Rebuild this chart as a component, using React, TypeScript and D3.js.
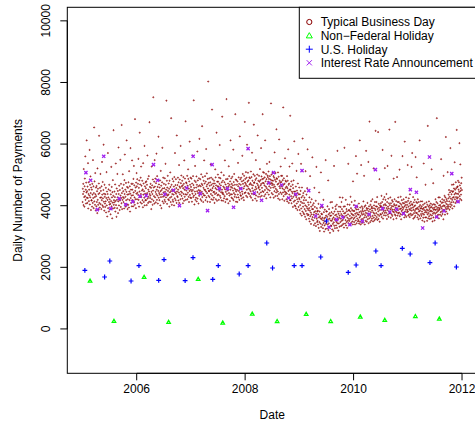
import React, { useEffect } from 'react';
import * as d3 from 'd3';

const xTicks = [2006, 2008, 2010, 2012];
const yTicks = [0, 2000, 4000, 6000, 8000, 10000];

// typical business days: payments in tens, one string per month (Jan..Dec)
const typical2005 = [
  '412 455 438 471 402 519 446 428 397 463 488 431 560 419 452 407 475 443 612 426',
  '447 409 462 425 538 391 438 476 415 452 433 581 404 468 427 495 441 386 459 417',
  '418 452 397 471 436 409 548 425 463 392 441 654 414 479 428 403 506 437 385 459',
  '431 398 464 412 447 376 521 419 455 403 438 388 472 627 409 441 394 458 426 503',
  '405 448 427 389 463 418 542 436 401 477 424 396 451 598 413 439 384 468 429 407',
  '396 437 414 458 378 425 509 401 446 365 419 438 571 392 427 453 381 412 468 404',
  '421 388 449 406 372 437 415 526 398 461 427 359 444 410 483 391 432 645 403 418',
  '411 446 393 428 469 381 415 537 402 438 364 456 419 392 503 427 448 376 414 589',
  '438 401 465 422 386 451 417 549 433 396 471 425 408 662 441 389 457 419 502 428',
  '447 412 468 425 391 483 438 566 406 452 429 397 474 418 445 612 403 461 436 389',
  '421 458 403 476 437 394 512 446 418 463 381 439 587 425 452 409 471 433 398 547',
  '452 418 471 434 398 487 443 529 412 466 427 403 681 448 421 459 392 475 439 506',
];
const typical2006 = [
  '463 421 486 442 408 471 435 552 419 458 397 482 446 637 428 469 411 491 438 527',
  '428 465 407 449 481 418 453 395 538 436 472 412 447 426 594 401 463 439 418 476',
  '457 418 479 436 402 468 441 563 423 487 409 452 429 496 446 413 671 438 461 425',
  '433 471 412 458 389 445 527 421 466 438 403 485 449 752 416 459 431 478 407 548',
  '462 427 488 445 411 473 438 569 452 419 496 433 461 407 484 448 624 426 469 441',
  '418 459 436 482 401 447 513 428 465 392 451 437 476 588 414 456 429 491 443 408',
  '471 432 457 419 489 445 413 536 468 427 452 741 438 481 406 459 433 497 448 421',
  '436 472 418 455 397 481 443 426 508 461 412 447 684 429 468 403 452 438 487 419',
  '448 413 479 436 462 401 493 452 424 571 443 467 418 486 439 457 409 628 446 431',
  '467 428 491 452 417 476 443 532 409 462 485 437 458 421 594 473 446 498 432 463',
  '442 481 423 466 408 457 493 438 471 416 547 452 429 488 461 437 674 419 476 449',
  '473 436 458 497 421 465 442 518 487 429 456 412 479 448 608 435 468 426 491 452',
];
const typical2007 = [
  '461 425 488 447 413 472 439 563 451 496 428 467 742 433 458 404 481 446 529 419',
  '438 477 426 459 495 414 468 447 576 423 482 441 463 407 451 489 432 617 466 444',
  '449 486 421 463 437 502 416 471 445 658 428 467 493 439 412 458 481 434 547 452',
  '472 433 496 451 418 478 446 584 427 463 505 441 469 413 487 456 803 432 474 448',
  '447 489 428 465 412 476 452 534 438 491 421 468 449 712 433 457 486 419 472 444',
  '463 426 481 445 409 472 438 518 457 492 421 466 441 637 453 416 478 434 463 501',
  '478 436 462 419 491 448 471 597 432 457 489 426 466 444 508 417 476 452 689 439',
  '443 481 416 462 437 499 424 458 476 431 547 453 412 469 445 486 421 746 461 438',
  '456 421 487 449 472 408 463 528 441 496 433 468 415 479 452 612 437 461 489 426',
  '471 437 458 494 423 466 449 582 418 477 441 503 456 429 468 436 697 452 485 413',
  '446 483 427 468 451 412 479 436 539 463 427 492 448 471 419 457 625 442 486 434',
  '468 432 491 457 423 479 446 562 438 503 471 427 482 456 418 497 463 441 672 475',
];
const typical2008 = [
  '487 443 471 509 432 466 491 452 598 428 478 463 507 441 482 456 734 438 492 469',
  '452 489 431 473 447 511 426 468 493 439 572 457 481 418 466 448 502 437 663 474',
  '476 438 497 452 423 484 461 548 433 489 455 416 472 501 444 628 467 429 481 458',
  '461 497 438 478 452 519 429 483 466 443 587 471 495 432 458 486 447 697 474 509',
  '488 445 473 507 431 466 492 451 612 437 479 462 503 424 486 457 536 443 471 498',
  '493 452 478 511 436 487 463 542 449 496 471 427 485 458 732 474 501 441 482 467',
  '472 508 437 481 459 496 426 468 491 447 573 462 484 431 506 455 478 443 648 489',
  '451 487 432 469 446 508 423 472 494 438 615 463 481 419 457 476 443 527 468 497',
  '477 438 462 497 421 456 483 443 719 468 431 489 452 416 471 446 554 437 481 458',
  '443 478 421 462 439 496 414 457 481 426 583 448 468 409 472 436 527 452 418 692',
  '452 418 463 431 479 408 446 424 537 441 468 396 457 429 482 413 446 609 438 401',
  '417 446 398 434 462 391 428 513 407 449 421 386 441 472 413 568 396 437 425 459',
];
const typical2009 = [
  '421 386 437 402 374 448 413 536 391 427 368 459 409 381 618 432 397 441 376 418',
  '408 372 426 389 447 364 401 512 383 418 356 436 397 374 457 391 583 369 411 386',
  '371 403 358 392 427 349 384 496 366 411 378 341 397 372 421 356 389 557 363 402',
  '389 352 371 408 337 379 458 361 396 343 382 367 416 334 374 526 358 392 347 381',
  '351 384 339 372 406 328 362 443 347 381 318 366 393 342 359 508 331 374 356 397',
  '372 338 361 394 327 352 419 344 379 316 358 336 387 349 362 324 548 341 368 382',
  '347 381 326 364 398 339 356 482 321 372 343 389 331 358 376 312 367 411 352 336',
  '368 334 379 351 412 323 357 393 341 374 318 362 346 529 335 381 356 327 369 398',
  '352 389 336 371 347 403 328 364 578 343 381 356 319 374 342 397 361 332 368 427',
  '381 347 396 358 334 373 412 351 389 337 368 426 354 382 341 361 397 329 375 588',
  '364 398 342 377 353 419 336 368 389 347 382 328 361 404 351 372 536 343 385 357',
  '386 351 403 367 338 381 429 358 392 344 374 412 362 386 349 371 339 479 383 357',
];
const typical2010 = [
  '369 402 347 383 361 416 339 374 393 352 561 366 388 343 377 504 358 396 372 349',
  '388 353 371 407 342 379 362 612 348 394 367 339 382 532 356 376 398 344 371 386',
  '392 357 381 414 346 373 497 362 397 339 384 369 401 351 377 578 363 392 348 386',
  '374 409 356 391 367 542 343 382 398 359 673 371 388 347 403 364 379 415 352 392',
  '397 358 384 421 367 392 349 378 521 361 401 374 353 391 412 368 386 643 357 398',
  '376 412 363 397 428 354 389 371 639 382 357 406 393 367 486 348 386 401 373 396',
  '408 371 398 432 363 387 412 376 581 394 358 421 383 402 369 393 428 377 522 405',
  '384 419 368 401 377 438 392 357 412 386 529 371 397 423 364 391 408 381 647 376',
  '402 376 427 388 361 408 393 562 372 399 418 367 387 413 381 398 356 488 379 405',
  '387 421 372 401 672 368 394 382 415 359 402 378 493 391 368 412 386 427 375 398',
  '412 378 398 517 366 389 407 373 429 391 356 403 383 418 371 396 561 387 409 377',
  '393 421 376 407 362 398 608 381 412 369 402 387 427 364 394 412 379 403 386 532',
];
const typical2011 = [
  '381 416 368 397 424 372 389 408 363 437 386 401 374 413 392 369 526 384 405 571',
  '403 371 394 428 358 387 411 376 398 362 419 383 401 367 558 389 377 412 391 492',
  '376 409 362 393 421 371 388 356 412 381 397 367 612 384 402 359 391 414 373 392',
  '367 398 381 414 352 389 374 403 361 392 537 371 386 348 407 378 395 362 468 383',
  '396 362 411 378 388 351 403 372 659 384 359 397 376 414 366 389 401 357 382 394',
  '371 407 384 359 396 518 368 381 403 349 392 374 473 362 387 405 378 394 352 388',
  '403 374 421 386 363 397 412 378 684 389 367 408 382 394 371 427 385 359 401 392',
  '388 427 371 402 414 379 396 551 367 391 409 382 421 373 398 411 386 356 497 401',
  '418 386 432 399 371 412 427 393 623 381 406 421 389 415 397 374 509 403 392 424',
  '436 398 451 414 387 429 443 405 587 396 423 448 411 437 402 468 419 391 445 426',
  '447 412 469 428 456 398 437 541 421 452 409 441 476 428 457 415 646 439 423 461',
  '462 427 481 438 452 413 476 445 603 431 466 422 534 448 457 436 473 418 491 451',
];
const typicalYears = [2005, 2006, 2007, 2008, 2009, 2010, 2011];
const typicalByYear = [typical2005, typical2006, typical2007, typical2008, typical2009, typical2010, typical2011];

const nonFedDates = [
  '2005-02-21', '2005-08-01', '2006-02-20', '2006-08-04', '2007-02-19', '2007-08-03', '2008-02-18',
  '2008-08-04', '2009-02-16', '2009-07-31', '2010-02-15', '2010-07-30', '2011-02-21', '2011-08-01',
];
const nonFedValues = [1556, 248, 1676, 215, 1611, 193, 485, 238, 475, 238, 388, 280, 400, 323];

const usHolidayDates = [
  '2005-01-17', '2005-05-30', '2005-07-04', '2005-11-24',
  '2006-01-16', '2006-05-29', '2006-07-04', '2006-11-23',
  '2007-01-15', '2007-05-28', '2007-07-04', '2007-11-22',
  '2008-01-21', '2008-05-26', '2008-07-04', '2008-11-27',
  '2009-01-19', '2009-05-25', '2009-07-03', '2009-11-26',
  '2010-01-18', '2010-05-31', '2010-07-05', '2010-11-25',
  '2011-01-17', '2011-05-30', '2011-07-04', '2011-11-24',
];
const usHolidayValues = [
  1903, 1686, 2205, 1556, 2056, 1579, 2251, 1569, 2316, 1611, 2056, 1783, 2056, 2790,
  1978, 2056, 2056, 2335, 3504, 1838, 2075, 2530, 2056, 2617, 2432, 2153, 2790, 2010,
];

const rateDates = [
  '2005-01-24', '2005-02-25', '2005-04-11', '2005-05-24', '2005-07-11', '2005-09-06', '2005-10-19', '2005-12-05',
  '2006-01-23', '2006-03-06', '2006-04-24', '2006-05-22', '2006-07-10', '2006-09-05', '2006-10-16', '2006-12-04',
  '2007-01-16', '2007-03-05', '2007-04-23', '2007-05-24', '2007-07-11', '2007-09-04', '2007-10-15', '2007-12-03',
  '2008-01-21', '2008-03-03', '2008-04-21', '2008-06-09', '2008-07-11', '2008-09-03', '2008-10-21', '2008-12-08',
  '2009-01-19', '2009-03-05', '2009-04-21', '2009-06-01', '2009-07-20', '2009-09-09', '2009-10-20', '2009-12-07',
  '2010-01-18', '2010-03-01', '2010-04-16', '2010-05-28', '2010-07-15', '2010-09-03', '2010-10-18', '2010-12-03',
  '2011-01-18', '2011-02-28', '2011-04-11', '2011-05-27', '2011-07-15', '2011-09-02', '2011-10-24', '2011-12-05',
];
const rateValues = [
  5075, 4825, 3874, 5604, 3906, 4231, 4036, 4133,
  4305, 4328, 5334, 4825, 4370, 4500, 4004, 4575,
  5604, 4393, 3841, 5334, 4555, 4555, 3948, 4555,
  5854, 4413, 4176, 4737, 5075, 4672, 4250, 4370,
  5140, 4490, 3666, 4004, 3299, 3549, 3624, 3387,
  3981, 3494, 3721, 5172, 3906, 3796, 3883, 3744,
  4523, 4435, 3276, 5581, 3634, 3828, 5042, 4133,
];

const legendLabels = ['Typical Business Day', 'Non\u2212Federal Holiday', 'U.S. Holiday', 'Interest Rate Announcement'];

const FONT = '"Liberation Sans", Arial, Helvetica, sans-serif';
const DARKRED = '#8B0000';
const GREEN = '#00FF00';
const BLUE = '#0000FF';
const PURPLE = '#A020F0';

// date string -> fractional year
const toYear = (s: string) => {
  const [yy, mm, dd] = s.split('-').map(Number);
  const start = Date.UTC(yy, 0, 1);
  const len = Date.UTC(yy + 1, 0, 1) - start;
  return yy + (Date.UTC(yy, mm - 1, dd) - start) / len;
};

const crossPath = (s: number) => `M${-s},${-s}L${s},${s}M${-s},${s}L${s},${-s}`;
const plusPath = (s: number) => `M${-s},0L${s},0M0,${-s}L0,${s}`;
const triPath = (s: number) => `M0,${-s * 1.15}L${s},${s * 0.6}L${-s},${s * 0.6}Z`;

const App: React.FC = () => {
  useEffect(() => {
    document.body.style.margin = '0';
  }, []);

  const width = 475;
  const height = 434;
  const plot = { left: 67.3, right: 477.2, top: 7.3, bottom: 373.3 };

  const x = d3.scaleLinear().domain([2004.72, 2012.28]).range([plot.left, plot.right]);
  const y = d3.scaleLinear().domain([-1440, 10440]).range([plot.bottom, plot.top]);

  // spread each month's business days evenly across that month
  const typical = typicalYears.flatMap((yr, yi) =>
    typicalByYear[yi].flatMap((row, m) => {
      const vals = row.trim().split(/\s+/).map(v => +v * 10);
      return vals.map((v, i) => ({ t: yr + (m + (i + 0.5) / vals.length) / 12, v }));
    })
  );

  const legendX = 299.3;
  const rowY = (i: number) => 26.3 + i * 13.6;

  return (
    <svg width={width} height={height} style={{ display: 'block', background: '#fff' }} fontFamily={FONT}>
      <g clipPath="url(#plotClip)">
        <clipPath id="plotClip">
          <rect x={plot.left} y={plot.top} width={plot.right - plot.left} height={plot.bottom - plot.top} />
        </clipPath>
        {typical.map((d, i) => (
          <circle key={`t${i}`} cx={x(d.t)} cy={y(d.v)} r={0.6} fill={DARKRED} fillOpacity={0.6} stroke={DARKRED} strokeWidth={0.6} />
        ))}
        {rateDates.map((s, i) => (
          <path key={`r${i}`} d={crossPath(1.6)} transform={`translate(${x(toYear(s))},${y(rateValues[i])})`}
            stroke={PURPLE} strokeWidth={1.3} fill="none" />
        ))}
        {usHolidayDates.map((s, i) => (
          <path key={`u${i}`} d={plusPath(2.4)} transform={`translate(${x(toYear(s))},${y(usHolidayValues[i])})`}
            stroke={BLUE} strokeWidth={1.2} fill="none" />
        ))}
        {nonFedDates.map((s, i) => (
          <path key={`n${i}`} d={triPath(1.8)} transform={`translate(${x(toYear(s))},${y(nonFedValues[i])})`}
            stroke={GREEN} strokeWidth={1.2} fill="none" />
        ))}
      </g>

      {/* box */}
      <rect x={plot.left} y={plot.top} width={plot.right - plot.left} height={plot.bottom - plot.top}
        fill="none" stroke="#000" strokeWidth={1} />

      {/* x axis */}
      <line x1={x(xTicks[0])} x2={x(xTicks[xTicks.length - 1])} y1={plot.bottom} y2={plot.bottom} stroke="#000" />
      {xTicks.map(t => (
        <g key={`xt${t}`}>
          <line x1={x(t)} x2={x(t)} y1={plot.bottom} y2={plot.bottom + 7} stroke="#000" />
          <text x={x(t)} y={393} textAnchor="middle" fontSize={12}>{t}</text>
        </g>
      ))}
      <text x={(plot.left + plot.right) / 2} y={419} textAnchor="middle" fontSize={12}>Date</text>

      {/* y axis */}
      <line x1={plot.left} x2={plot.left} y1={y(yTicks[0])} y2={y(yTicks[yTicks.length - 1])} stroke="#000" />
      {yTicks.map(t => (
        <g key={`yt${t}`}>
          <line x1={plot.left - 7} x2={plot.left} y1={y(t)} y2={y(t)} stroke="#000" />
          <text transform={`translate(50,${y(t)}) rotate(-90)`} textAnchor="middle" fontSize={12}>{t}</text>
        </g>
      ))}
      <text transform={`translate(22,${(plot.top + plot.bottom) / 2}) rotate(-90)`} textAnchor="middle" fontSize={12}>
        Daily Number of Payments
      </text>

      {/* legend */}
      <rect x={legendX} y={plot.top} width={plot.right - legendX} height={71} fill="#fff" stroke="#000" />
      {legendLabels.map((lab, i) => {
        const cy = rowY(i) - 4.3;
        const sx = 309.3;
        return (
          <g key={lab}>
            {i === 0 && <circle cx={sx} cy={cy} r={2.6} fill="none" stroke={DARKRED} strokeWidth={1} />}
            {i === 1 && <path d={triPath(3)} transform={`translate(${sx},${cy + 0.5})`} fill="none" stroke={GREEN} strokeWidth={1} />}
            {i === 2 && <path d={plusPath(3.5)} transform={`translate(${sx},${cy})`} fill="none" stroke={BLUE} strokeWidth={1} />}
            {i === 3 && <path d={crossPath(2.6)} transform={`translate(${sx},${cy})`} fill="none" stroke={PURPLE} strokeWidth={1} />}
            <text x={320.7} y={rowY(i)} fontSize={12}>{lab}</text>
          </g>
        );
      })}
    </svg>
  );
};

export default App;
